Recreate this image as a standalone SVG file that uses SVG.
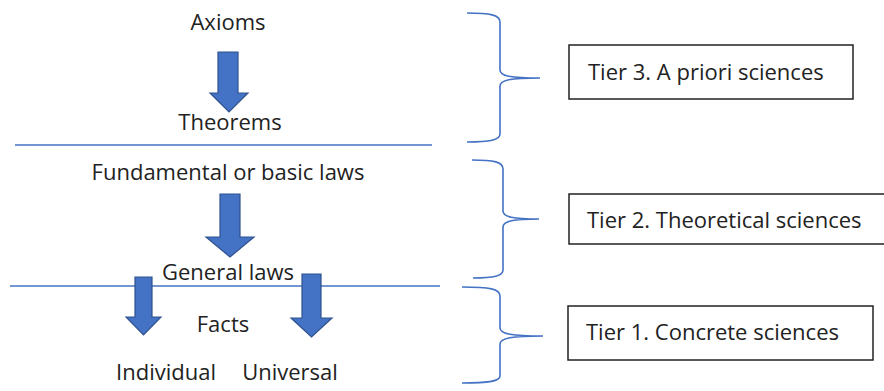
<svg xmlns="http://www.w3.org/2000/svg" width="884" height="391" viewBox="0 0 884 391">
<style>
  text { font-family: "Open Sans", "Noto Sans", "DejaVu Sans", sans-serif; font-size: 22px; fill: #222; }
  .c { text-anchor: middle; }
  .arrow { fill: #4472C4; stroke: #2F528F; stroke-width: 1.2; }
  .line { stroke: #4472C4; stroke-width: 1.5; fill: none; }
  .brace { stroke: #4472C4; stroke-width: 1.6; fill: none; }
  .box { fill: #fff; stroke: #222; stroke-width: 1.5; }
</style>
<rect width="884" height="391" fill="#fff"/>
<g id="dividers">
  <line class="line" x1="15" y1="145" x2="432" y2="145"/>
  <line class="line" x1="10" y1="286" x2="440" y2="286"/>
</g>
<g id="connectors">
  <polygon class="arrow" points="218,52 238,52 238,93 248,93 229,112 210,93 218,93"/>
  <polygon class="arrow" points="220,194 240,194 240,237 254,237 230,257 206,237 220,237"/>
  <polygon class="arrow" points="135,277 152,277 152,317 161,317 143.5,335 126,317 135,317"/>
  <polygon class="arrow" points="302,274 321,274 321,318 332,318 311.5,337 291,318 302,318"/>
</g>
<g id="axioms"><text class="c" x="228" y="30">Axioms</text></g>
<g id="theorems"><text class="c" x="230" y="130">Theorems</text></g>
<g id="fundamental"><text class="c" x="228" y="180">Fundamental or basic laws</text></g>
<g id="general"><text class="c" x="228" y="280">General laws</text></g>
<g id="facts"><text class="c" x="223" y="332">Facts</text></g>
<g id="individual"><text class="c" x="166" y="380">Individual</text></g>
<g id="universal"><text class="c" x="290" y="380">Universal</text></g>
<g id="brace3"><path class="brace" d="M467,13 C490,13 500,15 500,22 V70 C500,76 510,78 540,78 M540,78 C510,78 500,80 500,86 V134 C500,140 490,142 467,142"/></g>
<g id="brace2"><path class="brace" d="M472,160 C494,160 503,162 503,169 V211 C503,217 513,219 539,219 M539,219 C513,219 503,221 503,227 V270 C503,276 494,278 473,278"/></g>
<g id="brace1"><path class="brace" d="M462,287 C490,287 500,289 500,296 V328 C500,334 512,336 543,336 M543,336 C512,336 500,338 500,344 V376 C500,381 490,383 462,383"/></g>
<g id="tier3"><rect class="box" x="569" y="45" width="284" height="54"/><text x="588" y="80">Tier 3. A priori sciences</text></g>
<g id="tier2"><rect class="box" x="569" y="194" width="330" height="50"/><text x="587" y="228">Tier 2. Theoretical sciences</text></g>
<g id="tier1"><rect class="box" x="568" y="306" width="305" height="54"/><text x="586" y="340">Tier 1. Concrete sciences</text></g>
</svg>
